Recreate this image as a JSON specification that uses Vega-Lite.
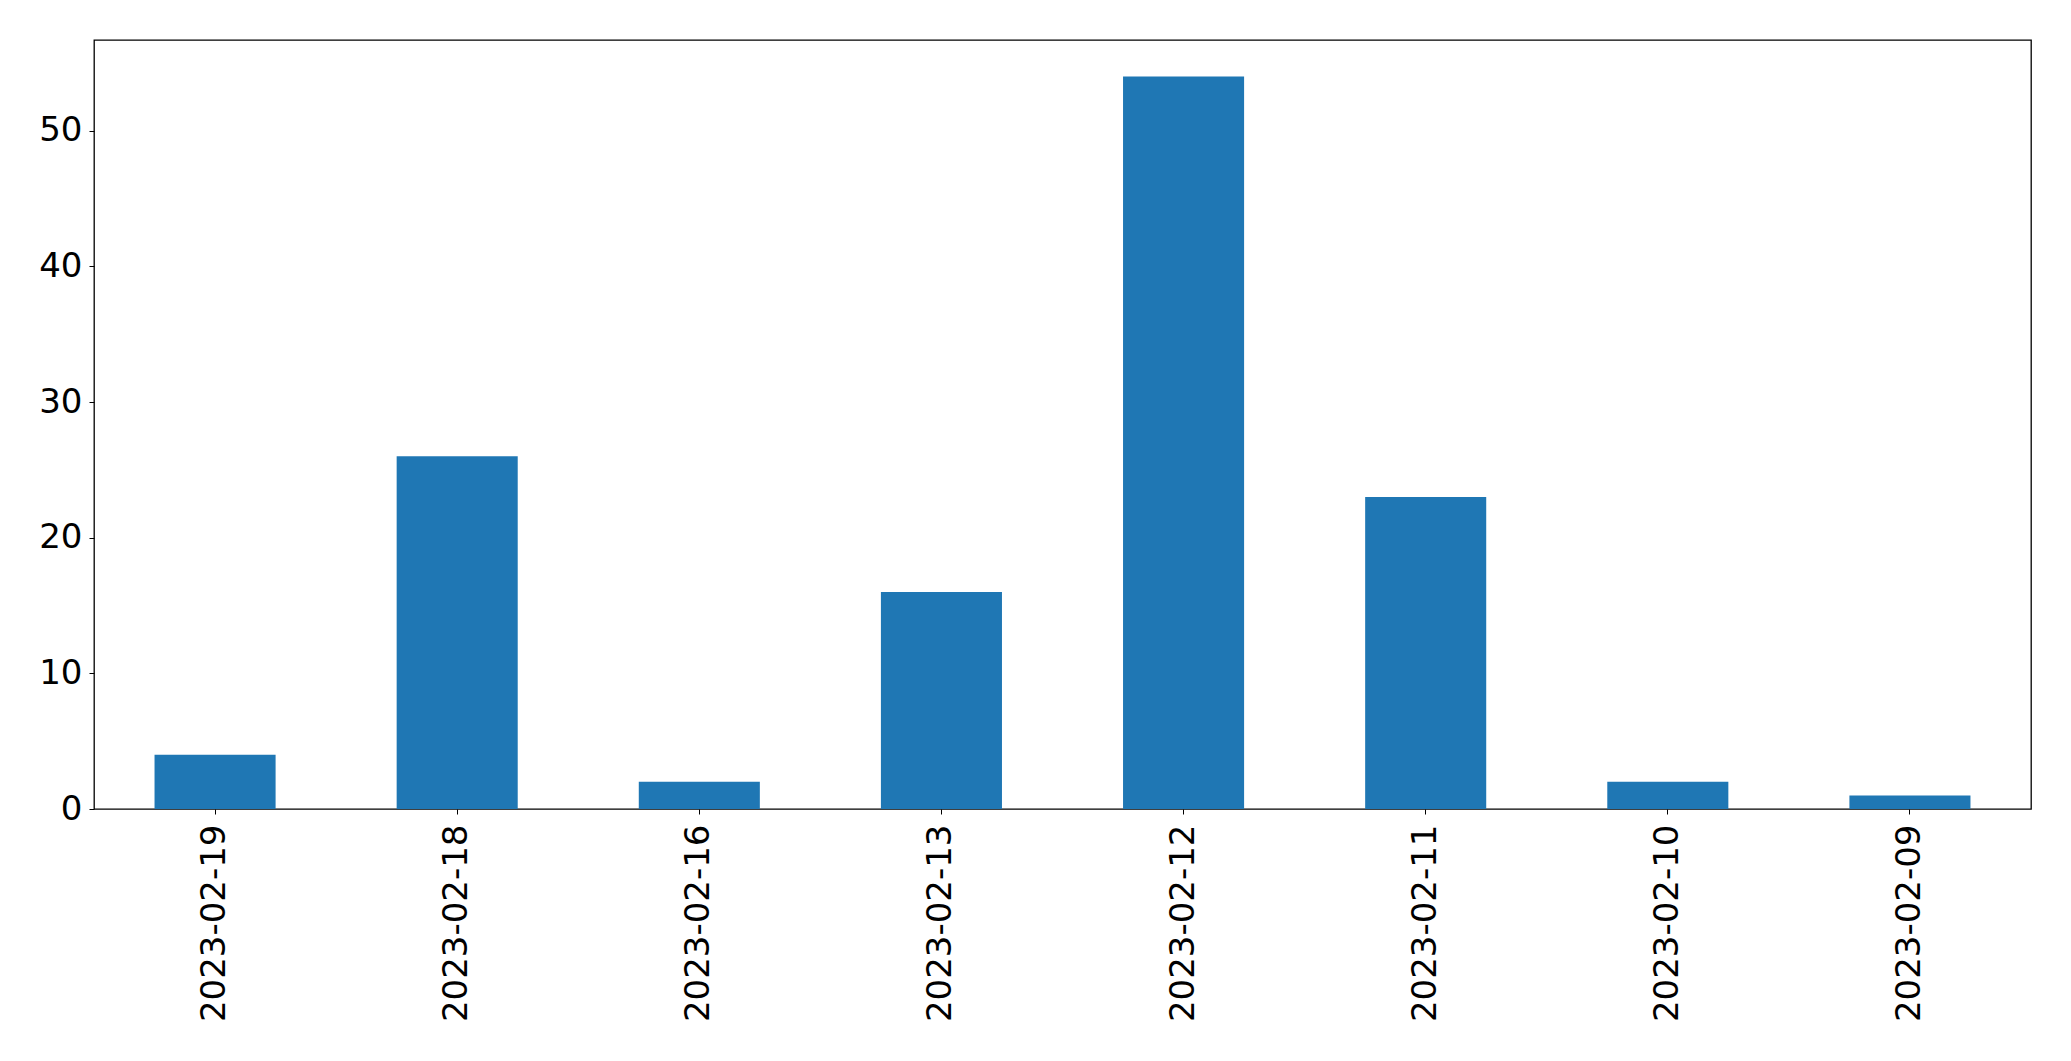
{
  "$schema": "https://vega.github.io/schema/vega-lite/v6.json",
  "width": 1937,
  "height": 769,
  "autosize": "none",
  "padding": {"left": 94, "top": 40, "right": 40, "bottom": 252},
  "background": "white",
  "data": {
    "values": [
      {"date": "2023-02-19", "count": 4},
      {"date": "2023-02-18", "count": 26},
      {"date": "2023-02-16", "count": 2},
      {"date": "2023-02-13", "count": 16},
      {"date": "2023-02-12", "count": 54},
      {"date": "2023-02-11", "count": 23},
      {"date": "2023-02-10", "count": 2},
      {"date": "2023-02-09", "count": 1}
    ]
  },
  "mark": {"type": "bar", "color": "#1f77b4"},
  "encoding": {
    "x": {
      "field": "date",
      "type": "nominal",
      "sort": null,
      "scale": {"paddingInner": 0.5, "paddingOuter": 0.25},
      "axis": {
        "title": null,
        "labelAngle": 270,
        "labelAlign": "right",
        "labelBaseline": "middle",
        "labelFont": "DejaVu Sans",
        "labelFontSize": 34,
        "labelLimit": 0,
        "labelColor": "black",
        "labelPadding": 10,
        "tickSize": 5,
        "tickColor": "black",
        "domain": false,
        "grid": false
      }
    },
    "y": {
      "field": "count",
      "type": "quantitative",
      "scale": {"domain": [0, 56.7], "nice": false, "zero": true},
      "axis": {
        "title": null,
        "values": [0, 10, 20, 30, 40, 50],
        "labelFont": "DejaVu Sans",
        "labelFontSize": 34,
        "labelColor": "black",
        "labelPadding": 7,
        "tickSize": 5,
        "tickColor": "black",
        "domain": false,
        "grid": false
      }
    }
  },
  "config": {
    "view": {"stroke": "black", "strokeWidth": 1.3}
  }
}
